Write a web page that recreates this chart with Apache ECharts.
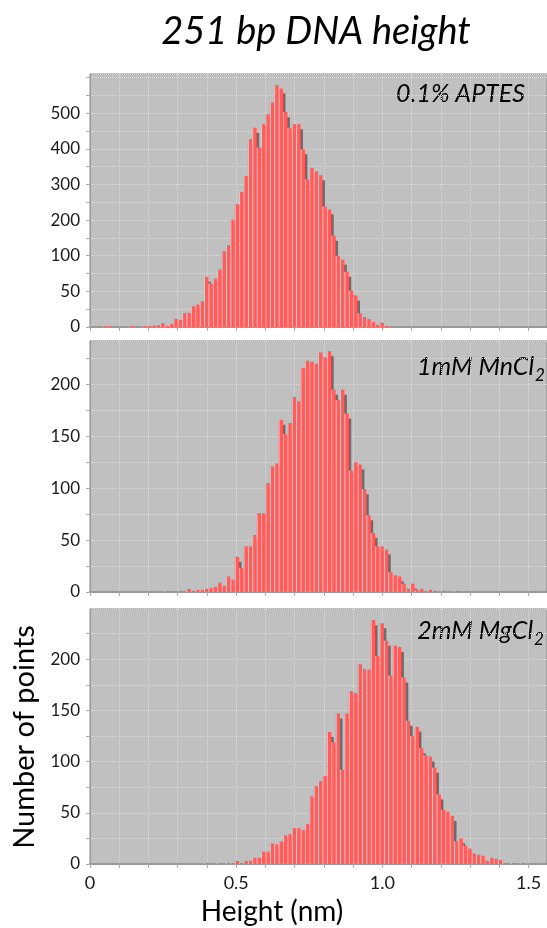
<!DOCTYPE html>
<html>
<head>
<meta charset="utf-8">
<script src="https://cdn.jsdelivr.net/npm/echarts@6/dist/echarts.min.js"></script>
<style>
html,body{margin:0;padding:0;background:#fff;}
#chart{width:547px;height:928px;}
</style>
</head>
<body>
<div id="chart"></div>
<script>
// ---- data ----
const titleText = '251 bp DNA height';
const panelLabels = ['0.1% APTES', '1mM MnCl', '2mM MgCl'];
const panelSubs = ['', '2', '2'];
const xAxisTitle = 'Height (nm)';
const yAxisTitle = 'Number of points';

// histogram bins: bin i covers [binStart + i*binWidth, binStart + (i+1)*binWidth]
const binStart = 0;
const binWidth = 0.015;

// 0.1% APTES (counts in the panel's evenly spaced axis units)
const countsAPTES = [
  0,0,0,2,2,0,0,0,0,3, 0,0,2,2,4,5,11,3,9,23,
  20,39,40,58,63,72,141,122,136,161, 213,230,301,344,379,424,527,559,503,569,
  597,630,679,669,603,559,569,569,499,414, 447,437,426,338,330,256,199,189,155,102,
  88,38,28,22,14,6,12,3,1
];
// 1mM MnCl2
const countsMn = [
  0,0,0,0,0,0,0,0,0,0, 0,0,0,0,0,0,0,1,0,0,
  1,0,3,1,2,2,3,4,5,9, 6,15,12,34,23,44,44,55,76,76,
  105,121,124,166,152,163,188,184,216,223, 222,220,231,226,232,195,185,195,172,117,
  125,123,99,74,57,44,44,41,19,16, 15,8,3,8,2,3,0,2,1,0,
  1,0,0,1
];
// 2mM MgCl2
const countsMg = [
  0,0,0,0,0,0,0,0,0,0, 0,0,0,0,0,0,0,0,0,0,
  0,0,0,0,0,0,1,0,0,1, 0,1,1,3,1,3,3,6,6,12,
  12,20,19,22,28,29,35,35,33,39, 66,76,81,86,129,119,147,92,147,169,
  167,195,190,190,238,203,235,218,184,213, 212,182,140,125,134,113,106,105,94,68,
  53,51,47,22,25,18,15,10,9,8, 3,6,5,4,1,0,1,0,1
];

// axis ticks
const xTickValues = [0, 0.5, 1.0, 1.5];
const xTickLabels = ['0', '0.5', '1.0', '1.5'];
const xMax = 1.563;
const yTickLabelsAPTES = ['0', '50', '100', '200', '300', '400', '500']; // evenly spaced ticks
const yMaxes = [710, 242, 249];

// ---- chart ----
const chart = echarts.init(document.getElementById('chart'));
const FONT = 'Lato';
const grids = [
  {top: 74, height: 253},
  {top: 341, height: 251},
  {top: 609, height: 255}
];

function renderBar(params, api) {
  const count = api.value(2);
  if (!count) return null;
  const p0 = api.coord([api.value(0), count]);
  const p1 = api.coord([api.value(1), 0]);
  const x = p0[0], y = p0[1], w = p1[0] - p0[0], h = p1[1] - p0[1];
  return {
    type: 'group',
    children: [
      {type: 'rect', shape: {x: x + 2.5, y: y + 5, width: w, height: Math.max(h - 5, 0)}, style: {fill: '#6c6c6c'}},
      {type: 'rect', shape: {x: x, y: y, width: w, height: h}, style: {fill: '#ff5c5c'}},
      {type: 'rect', shape: {x: x, y: y, width: 1, height: h}, style: {fill: '#ffb9b9'}}
    ]
  };
}

function toItems(counts) {
  return counts.map((c, i) => [binStart + i * binWidth, binStart + (i + 1) * binWidth, c]);
}

const allCounts = [countsAPTES, countsMn, countsMg];

const option = {
  animation: false,
  backgroundColor: '#ffffff',
  grid: grids.map(g => ({
    left: 90, right: 0, top: g.top, height: g.height,
    show: true, backgroundColor: '#c0c0c0', borderColor: '#888888', borderWidth: 1
  })),
  xAxis: grids.map((g, i) => ({
    type: 'value', gridIndex: i, min: 0, max: xMax, interval: 0.1,
    axisLine: {show: true, onZero: false, lineStyle: {color: '#999999', width: 2}},
    axisTick: {show: true, length: 4, lineStyle: {color: '#aaaaaa'}},
    splitLine: {show: true, lineStyle: {color: '#dadada', type: 'dotted', width: 1}},
    axisLabel: {
      show: i === 2, showMaxLabel: false, margin: 10,
      fontFamily: FONT, fontSize: 18, color: '#1a1a1a',
      formatter: v => {
        const k = xTickValues.findIndex(t => Math.abs(t - v) < 1e-6);
        return k >= 0 ? xTickLabels[k] : '';
      }
    }
  })),
  yAxis: grids.map((g, i) => ({
    type: 'value', gridIndex: i, min: 0, max: yMaxes[i], interval: i === 0 ? 50 : 25,
    axisLine: {show: true, lineStyle: {color: '#999999', width: 1}},
    axisTick: {show: true, length: 4, lineStyle: {color: '#aaaaaa'}},
    splitLine: {show: true, lineStyle: {color: '#dadada', type: 'dotted', width: 1}},
    axisLabel: {
      showMaxLabel: false, margin: 10,
      fontFamily: FONT, fontSize: 17, color: '#1a1a1a',
      formatter: v => {
        if (i === 0) {
          const k = Math.round(v / 100);
          return (Math.abs(v - k * 100) < 1e-6 && k < yTickLabelsAPTES.length) ? yTickLabelsAPTES[k] : '';
        }
        return (v % 50 === 0) ? String(v) : '';
      }
    }
  })),
  series: allCounts.map((c, i) => ({
    type: 'custom', xAxisIndex: i, yAxisIndex: i, clip: true,
    renderItem: renderBar,
    encode: {x: [0, 1], y: 2},
    data: toItems(c)
  })),
  graphic: [
    {type: 'text', x: 316, y: 32, style: {text: titleText, font: 'italic 38px ' + FONT, fill: '#000', textAlign: 'center', textVerticalAlign: 'middle'}},
    {type: 'text', x: 525, y: 94, style: {text: panelLabels[0], font: 'italic 25px ' + FONT, fill: '#000', textAlign: 'right', textVerticalAlign: 'middle'}},
    {type: 'text', x: 534, y: 367, style: {text: panelLabels[1], font: 'italic 25px ' + FONT, fill: '#000', textAlign: 'right', textVerticalAlign: 'middle'}},
    {type: 'text', x: 535, y: 376, style: {text: panelSubs[1], font: 'italic 17px ' + FONT, fill: '#000', textAlign: 'left', textVerticalAlign: 'middle'}},
    {type: 'text', x: 533, y: 631, style: {text: panelLabels[2], font: 'italic 25px ' + FONT, fill: '#000', textAlign: 'right', textVerticalAlign: 'middle'}},
    {type: 'text', x: 534, y: 640, style: {text: panelSubs[2], font: 'italic 17px ' + FONT, fill: '#000', textAlign: 'left', textVerticalAlign: 'middle'}},
    {type: 'text', x: 272, y: 912, style: {text: xAxisTitle, font: '28px ' + FONT, fill: '#000', textAlign: 'center', textVerticalAlign: 'middle'}},
    {type: 'text', x: 25, y: 737, rotation: Math.PI / 2, style: {text: yAxisTitle, font: '29px ' + FONT, fill: '#000', textAlign: 'center', textVerticalAlign: 'middle'}}
  ]
};
chart.setOption(option);
</script>
</body>
</html>
